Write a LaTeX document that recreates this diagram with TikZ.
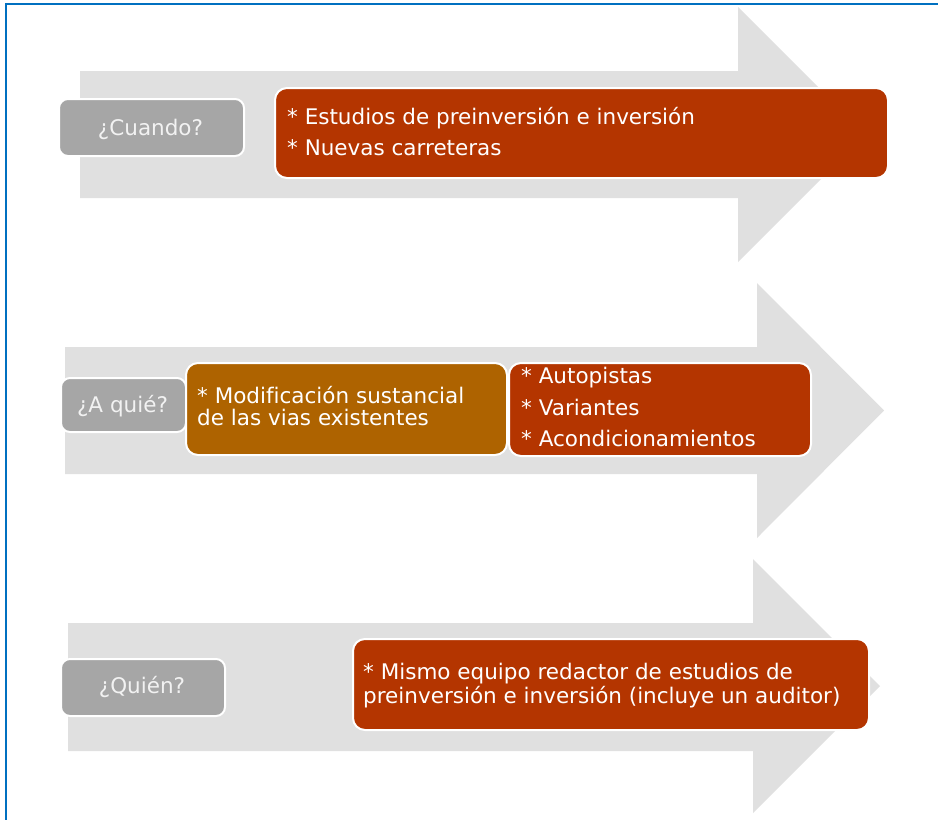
\documentclass[tikz,border=0pt]{standalone}
\usepackage{fontspec}
\setmainfont[Ligatures=NoCommon]{DejaVu Sans}
\definecolor{arrowgray}{HTML}{E0E0E0}
\definecolor{boxgray}{HTML}{A6A6A6}
\definecolor{boxred}{HTML}{B43500}
\definecolor{boxorange}{HTML}{AE6300}
\definecolor{frameblue}{HTML}{0070C0}
\definecolor{softwhite}{HTML}{F2F2F2}
\tikzset{
  bigarrow/.style={fill=arrowgray, draw=none},
  qbox/.style={draw=white, line width=2pt, fill=boxgray, rounded corners=9pt, inner sep=0pt},
  redbox/.style={draw=white, line width=2pt, fill=boxred, rounded corners=12pt, inner sep=0pt},
  orangebox/.style={draw=white, line width=2pt, fill=boxorange, rounded corners=12pt, inner sep=0pt},
  qtext/.style={text=softwhite, font=\fontsize{21.5}{25}\selectfont, inner sep=0pt, anchor=base},
  line/.style={text=white, font=\fontsize{21.5}{25}\selectfont, inner sep=0pt, anchor=base west},
}
\begin{document}
\begin{tikzpicture}[x=1pt, y=-1pt]
\useasboundingbox (0,0) rectangle (938,820);
\fill[white] (0,0) rectangle (938,820);
% frame
\draw[frameblue, line width=2pt] (5.5,820) -- (5.5,4) -- (938,4);

% arrow 1
\fill[bigarrow] (80,71) -- (738,71) -- (738,7) -- (865.5,134.5) -- (738,262) -- (738,198) -- (80,198) -- cycle;
\node[qbox, minimum width=185pt, minimum height=57pt, anchor=north west] (q1) at (58,98) {};
\node[qtext] (q1t) at (150.5,135) {¿Cuando?};
\node[redbox, minimum width=613pt, minimum height=90pt, anchor=north west] (r1) at (274,87) {};
\node[line] (r1a) at (287,124.3) {* Estudios de preinversión e inversión};
\node[line] (r1b) at (287,155.7) {* Nuevas carreteras};

% arrow 2
\fill[bigarrow] (65,347) -- (757,347) -- (757,283) -- (884,410.5) -- (757,538) -- (757,474) -- (65,474) -- cycle;
\node[qbox, minimum width=125pt, minimum height=54pt, anchor=north west] (q2) at (60,377) {};
\node[qtext] (q2t) at (122.5,412) {¿A quié?};
\node[orangebox, minimum width=321pt, minimum height=92pt, anchor=north west] (o2) at (185,362) {};
\node[line] (o2a) at (197,403) {* Modificación sustancial};
\node[line] (o2b) at (197,425.5) {de las vias existentes};
\node[redbox, minimum width=302pt, minimum height=93pt, anchor=north west] (r2) at (508,362) {};
\node[line] (r2a) at (521,383) {* Autopistas};
\node[line] (r2b) at (521,415) {* Variantes};
\node[line] (r2c) at (521,446) {* Acondicionamientos};

% arrow 3
\fill[bigarrow] (68,623) -- (753,623) -- (753,559) -- (880,686) -- (753,813) -- (753,751) -- (68,751) -- cycle;
\node[qbox, minimum width=164pt, minimum height=57pt, anchor=north west] (q3) at (60,658) {};
\node[qtext] (q3t) at (142,693) {¿Quién?};
\node[redbox, minimum width=516pt, minimum height=91pt, anchor=north west] (r3) at (352,638) {};
\node[line] (r3a) at (363,679) {* Mismo equipo redactor de estudios de};
\node[line] (r3b) at (363,703) {preinversión e inversión (incluye un auditor)};
\end{tikzpicture}
\end{document}
